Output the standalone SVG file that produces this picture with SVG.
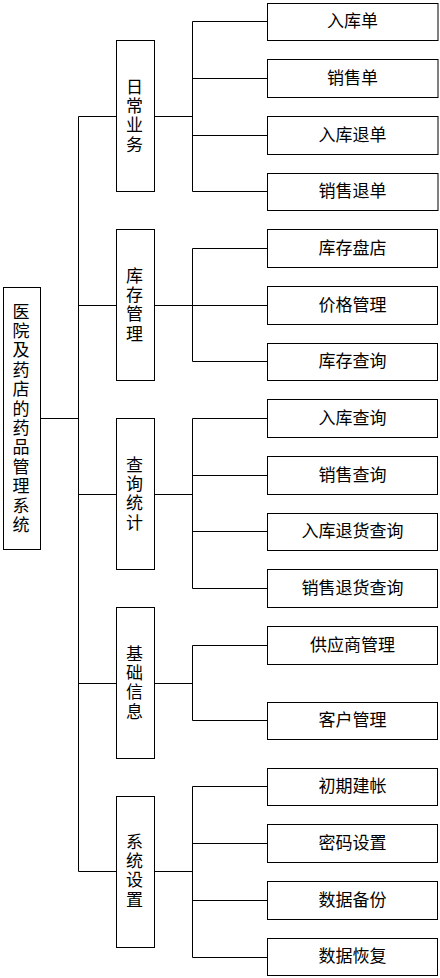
<svg xmlns="http://www.w3.org/2000/svg" width="440" height="978" viewBox="0 0 440 978">
<style>
rect.b{fill:#fff;stroke:#000;stroke-width:1}
.c line{stroke:#000;stroke-width:1}
text{font-family:"Noto Sans CJK SC","Noto Sans CJK TC",sans-serif;font-size:17px;fill:#000;text-anchor:middle;dominant-baseline:central}
</style>
<rect width="440" height="978" fill="#fff"/>
<g class="c" id="connectors">
<line x1="40.5" y1="418.5" x2="78.5" y2="418.5"/>
<line x1="78.5" y1="116.5" x2="78.5" y2="871.5"/>
<line x1="78.5" y1="116.5" x2="116.5" y2="116.5"/>
<line x1="78.5" y1="305.5" x2="116.5" y2="305.5"/>
<line x1="78.5" y1="494.5" x2="116.5" y2="494.5"/>
<line x1="78.5" y1="683.5" x2="116.5" y2="683.5"/>
<line x1="78.5" y1="871.5" x2="116.5" y2="871.5"/>
<line x1="154.5" y1="116.5" x2="192.5" y2="116.5"/>
<line x1="154.5" y1="305.5" x2="192.5" y2="305.5"/>
<line x1="154.5" y1="494.5" x2="192.5" y2="494.5"/>
<line x1="154.5" y1="683.5" x2="192.5" y2="683.5"/>
<line x1="154.5" y1="871.5" x2="192.5" y2="871.5"/>
<line x1="192.5" y1="21.5" x2="192.5" y2="191.5"/>
<line x1="192.5" y1="248.5" x2="192.5" y2="361.5"/>
<line x1="192.5" y1="418.5" x2="192.5" y2="588.5"/>
<line x1="192.5" y1="645.5" x2="192.5" y2="720.5"/>
<line x1="192.5" y1="786.5" x2="192.5" y2="957.5"/>
<line x1="192.5" y1="21.5" x2="267.5" y2="21.5"/>
<line x1="192.5" y1="78.5" x2="267.5" y2="78.5"/>
<line x1="192.5" y1="135.5" x2="267.5" y2="135.5"/>
<line x1="192.5" y1="191.5" x2="267.5" y2="191.5"/>
<line x1="192.5" y1="248.5" x2="267.5" y2="248.5"/>
<line x1="192.5" y1="305.5" x2="267.5" y2="305.5"/>
<line x1="192.5" y1="361.5" x2="267.5" y2="361.5"/>
<line x1="192.5" y1="418.5" x2="267.5" y2="418.5"/>
<line x1="192.5" y1="475.5" x2="267.5" y2="475.5"/>
<line x1="192.5" y1="531.5" x2="267.5" y2="531.5"/>
<line x1="192.5" y1="588.5" x2="267.5" y2="588.5"/>
<line x1="192.5" y1="645.5" x2="267.5" y2="645.5"/>
<line x1="192.5" y1="720.5" x2="267.5" y2="720.5"/>
<line x1="192.5" y1="786.5" x2="267.5" y2="786.5"/>
<line x1="192.5" y1="843.5" x2="267.5" y2="843.5"/>
<line x1="192.5" y1="900.5" x2="267.5" y2="900.5"/>
<line x1="192.5" y1="957.5" x2="267.5" y2="957.5"/>
</g>
<g id="root">
<rect class="b" x="3.5" y="287.5" width="37" height="262"/>
<text><tspan x="21" y="309.5">医</tspan><tspan x="21" dy="19.4">院</tspan><tspan x="21" dy="19.4">及</tspan><tspan x="21" dy="19.4">药</tspan><tspan x="21" dy="19.4">店</tspan><tspan x="21" dy="19.4">的</tspan><tspan x="21" dy="19.4">药</tspan><tspan x="21" dy="19.4">品</tspan><tspan x="21" dy="19.4">管</tspan><tspan x="21" dy="19.4">理</tspan><tspan x="21" dy="19.4">系</tspan><tspan x="21" dy="19.4">统</tspan></text>
</g>
<g id="cat1"><rect class="b" x="116.5" y="40.5" width="38" height="151"/><text><tspan x="134.5" y="85">日</tspan><tspan x="134.5" dy="19.2">常</tspan><tspan x="134.5" dy="19.2">业</tspan><tspan x="134.5" dy="19.2">务</tspan></text></g>
<g id="cat2"><rect class="b" x="116.5" y="229.5" width="38" height="151"/><text><tspan x="134.5" y="274">库</tspan><tspan x="134.5" dy="19.2">存</tspan><tspan x="134.5" dy="19.2">管</tspan><tspan x="134.5" dy="19.2">理</tspan></text></g>
<g id="cat3"><rect class="b" x="116.5" y="418.5" width="38" height="151"/><text><tspan x="134.5" y="463">查</tspan><tspan x="134.5" dy="19.2">询</tspan><tspan x="134.5" dy="19.2">统</tspan><tspan x="134.5" dy="19.2">计</tspan></text></g>
<g id="cat4"><rect class="b" x="116.5" y="607.5" width="38" height="151"/><text><tspan x="134.5" y="652">基</tspan><tspan x="134.5" dy="19.2">础</tspan><tspan x="134.5" dy="19.2">信</tspan><tspan x="134.5" dy="19.2">息</tspan></text></g>
<g id="cat5"><rect class="b" x="116.5" y="796.5" width="38" height="151"/><text><tspan x="134.5" y="840">系</tspan><tspan x="134.5" dy="19.2">统</tspan><tspan x="134.5" dy="19.2">设</tspan><tspan x="134.5" dy="19.2">置</tspan></text></g>
<g id="leaf1"><rect class="b" x="267.5" y="3.5" width="170.5" height="37"/><text x="352.5" y="19.5">入库单</text></g>
<g id="leaf2"><rect class="b" x="267.5" y="59.5" width="170.5" height="38"/><text x="352.5" y="76">销售单</text></g>
<g id="leaf3"><rect class="b" x="267.5" y="116.5" width="170.5" height="38"/><text x="352.5" y="133">入库退单</text></g>
<g id="leaf4"><rect class="b" x="267.5" y="173.5" width="170.5" height="37"/><text x="352.5" y="189.5">销售退单</text></g>
<g id="leaf5"><rect class="b" x="267.5" y="229.5" width="170" height="38"/><text x="352.5" y="246">库存盘店</text></g>
<g id="leaf6"><rect class="b" x="267.5" y="286.5" width="170" height="38"/><text x="352.5" y="303">价格管理</text></g>
<g id="leaf7"><rect class="b" x="267.5" y="343.5" width="170" height="37"/><text x="352.5" y="359.5">库存查询</text></g>
<g id="leaf8"><rect class="b" x="267.5" y="399.5" width="170" height="38"/><text x="352.5" y="416">入库查询</text></g>
<g id="leaf9"><rect class="b" x="267.5" y="456.5" width="170" height="38"/><text x="352.5" y="473">销售查询</text></g>
<g id="leaf10"><rect class="b" x="267.5" y="513.5" width="170" height="37"/><text x="352.5" y="529.5">入库退货查询</text></g>
<g id="leaf11"><rect class="b" x="267.5" y="569.5" width="170" height="38"/><text x="352.5" y="586">销售退货查询</text></g>
<g id="leaf12"><rect class="b" x="267.5" y="626.5" width="170" height="38"/><text x="352.5" y="643">供应商管理</text></g>
<g id="leaf13"><rect class="b" x="267.5" y="702.5" width="170" height="37"/><text x="352.5" y="718.5">客户管理</text></g>
<g id="leaf14"><rect class="b" x="267.5" y="768.5" width="170" height="37"/><text x="352.5" y="784.5">初期建帐</text></g>
<g id="leaf15"><rect class="b" x="267.5" y="824.5" width="170" height="38"/><text x="352.5" y="841">密码设置</text></g>
<g id="leaf16"><rect class="b" x="267.5" y="881.5" width="170" height="38"/><text x="352.5" y="898">数据备份</text></g>
<g id="leaf17"><rect class="b" x="267.5" y="938.5" width="170" height="37"/><text x="352.5" y="954.5">数据恢复</text></g>
</svg>
